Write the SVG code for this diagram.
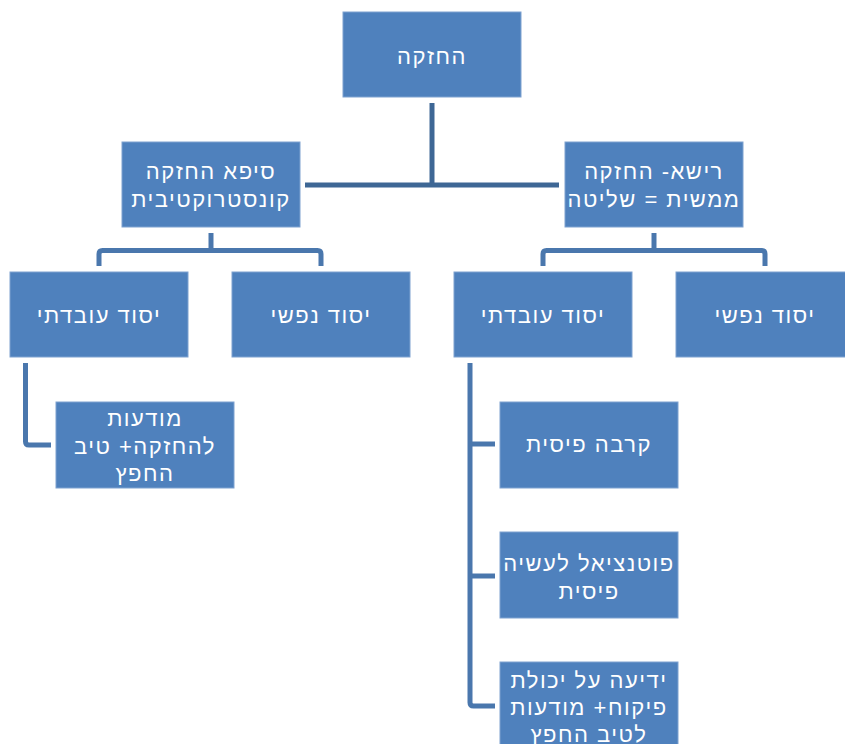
<svg xmlns="http://www.w3.org/2000/svg" width="845" height="744" viewBox="0 0 845 744">
  <style>
    .box { fill: #4F81BD; stroke: #7FA2D0; stroke-width: 1; }
    .lbl { font-family: "Liberation Sans", Arial, "DejaVu Sans", sans-serif; font-size: 22px; letter-spacing: 1.5px; fill: #FFFFFF; text-anchor: middle; direction: rtl; }
    .c1 { fill: none; stroke: #3E6795; stroke-width: 5; stroke-linejoin: round; }
    .c2 { fill: none; stroke: #4A77AD; stroke-width: 5; stroke-linejoin: round; }
  </style>
  <rect x="0" y="0" width="845" height="744" fill="#FFFFFF"/>
  <g id="connectors">
    <path class="c1" d="M432,103 V185"/>
    <path class="c1" d="M305,185 H559"/>
    <path class="c2" d="M211,233 V250.5"/>
    <path class="c2" d="M99,266 V254 Q99,250.5 102.5,250.5 H317.5 Q321,250.5 321,254 V266"/>
    <path class="c2" d="M654,233 V250.5"/>
    <path class="c2" d="M543,266 V254 Q543,250.5 546.5,250.5 H761.5 Q765,250.5 765,254 V266"/>
    <path class="c2" d="M25.5,363 V441.5 Q25.5,445 29,445 H51"/>
    <path class="c2" d="M470,363 V702.5 Q470,706 473.5,706 H495"/>
    <path class="c2" d="M470,444 H495"/>
    <path class="c2" d="M470,576 H495"/>
  </g>
  <g id="root">
    <rect class="box" x="343" y="12" width="178" height="85"/>
    <text class="lbl" x="432" y="63.5">החזקה</text>
  </g>
  <g id="sifa">
    <rect class="box" x="122" y="142" width="178" height="85"/>
    <text class="lbl" x="211" y="179">סיפא החזקה</text>
    <text class="lbl" x="211" y="206.5">קונסטרוקטיבית</text>
  </g>
  <g id="reisha">
    <rect class="box" x="565" y="142" width="178" height="85"/>
    <text class="lbl" x="654" y="179">רישא- החזקה</text>
    <text class="lbl" x="654" y="206.5">ממשית = שליטה</text>
  </g>
  <g id="left-factual">
    <rect class="box" x="10" y="272" width="178" height="85"/>
    <text class="lbl" x="99" y="323">יסוד עובדתי</text>
  </g>
  <g id="left-mental">
    <rect class="box" x="232" y="272" width="178" height="85"/>
    <text class="lbl" x="321" y="323">יסוד נפשי</text>
  </g>
  <g id="right-factual">
    <rect class="box" x="454" y="272" width="178" height="85"/>
    <text class="lbl" x="543" y="323">יסוד עובדתי</text>
  </g>
  <g id="right-mental">
    <rect class="box" x="676" y="272" width="178" height="85"/>
    <text class="lbl" x="765" y="323">יסוד נפשי</text>
  </g>
  <g id="left-leaf">
    <rect class="box" x="56" y="402" width="178" height="86"/>
    <text class="lbl" x="145" y="426">מודעות</text>
    <text class="lbl" x="145" y="453.5">להחזקה+ טיב</text>
    <text class="lbl" x="145" y="481">החפץ</text>
  </g>
  <g id="proximity">
    <rect class="box" x="500" y="402" width="178" height="86"/>
    <text class="lbl" x="589" y="452">קרבה פיסית</text>
  </g>
  <g id="potential">
    <rect class="box" x="500" y="532" width="178" height="86"/>
    <text class="lbl" x="589" y="571">פוטנציאל לעשיה</text>
    <text class="lbl" x="589" y="598.5">פיסית</text>
  </g>
  <g id="knowledge">
    <rect class="box" x="500" y="662" width="178" height="86"/>
    <text class="lbl" x="589" y="688">ידיעה על יכולת</text>
    <text class="lbl" x="589" y="715">פיקוח+ מודעות</text>
    <text class="lbl" x="589" y="742">לטיב החפץ</text>
  </g>
</svg>
